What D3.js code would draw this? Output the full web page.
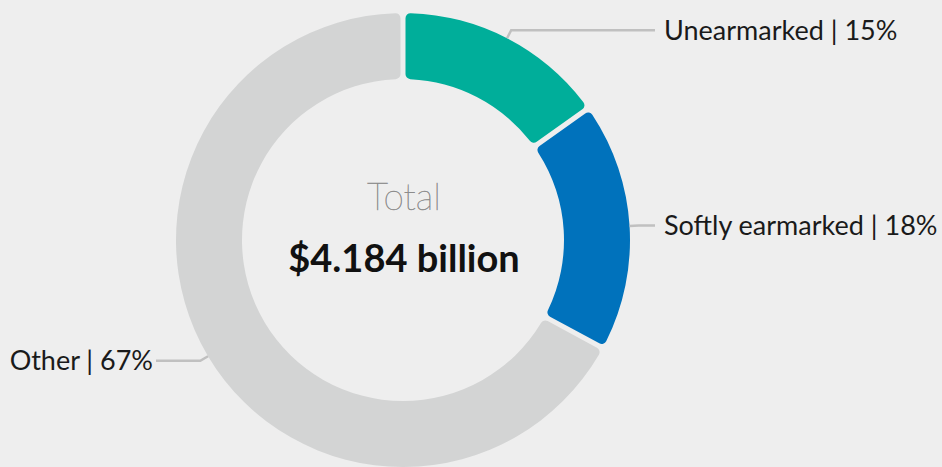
<!DOCTYPE html>
<html>
<head>
<meta charset="utf-8">
<script src="https://cdn.jsdelivr.net/npm/d3@7"></script>
<style>
  html, body { margin: 0; padding: 0; background: #eeeeee; overflow: hidden; }
  svg { display: block; font-family: Lato, "Noto Sans", sans-serif; }
</style>
</head>
<body>
<div id="chart"></div>
<script>
const categories = ['Unearmarked', 'Softly earmarked', 'Other'];
const shares = [15.0, 17.6, 67.4];
const colors = ['#00ae9a', '#0072bc', '#d3d4d4'];
const totalLabel = 'Total';
const totalValue = '$4.184 billion';

const width = 942, height = 467;
const cx = 403, cy = 240;
const outerR = 227, innerR = 161;

const svg = d3.select('#chart').append('svg')
  .attr('width', width)
  .attr('height', height);

const g = svg.append('g').attr('transform', `translate(${cx},${cy})`);

const data = categories.map((c, i) => ({ name: c, value: shares[i], color: colors[i] }));

const pie = d3.pie().sort(null).value(d => d.value).padAngle(0.018);
const arc = d3.arc().innerRadius(innerR).outerRadius(outerR).cornerRadius(5);
const arcs = pie(data);

// slices
g.selectAll('path.slice')
  .data(arcs)
  .enter().append('path')
  .attr('class', 'slice')
  .attr('fill', d => d.data.color)
  .attr('d', arc);

// leader lines and labels
const polar = (r, a) => [r * Math.sin(a), -r * Math.cos(a)];

arcs.forEach(d => {
  const mid = (d.startAngle + d.endAngle) / 2;
  const p0 = polar(outerR, mid);
  const p1 = polar(outerR + 9, mid);
  const right = Math.sin(mid) > 0;
  const xEnd = right ? 655 - cx : 156 - cx;
  const p2 = [xEnd, p1[1]];

  g.append('polyline')
    .attr('points', [p0, p1, p2].map(p => p.join(',')).join(' '))
    .attr('fill', 'none')
    .attr('stroke', '#c0c0c0')
    .attr('stroke-width', 2.5);

  g.append('text')
    .attr('x', right ? xEnd + 9 : xEnd - 3)
    .attr('y', p2[1])
    .attr('dy', '0.35em')
    .attr('text-anchor', right ? 'start' : 'end')
    .attr('fill', '#1a1a1a')
    .style('font-size', '27px')
    .text(`${d.data.name} | ${Math.round(d.data.value)}%`);
});

// center text (thin weight, slightly thickened)
g.append('text')
  .attr('x', 1)
  .attr('y', 210 - cy)
  .attr('text-anchor', 'middle')
  .attr('fill', '#8c8c8c')
  .attr('stroke', '#8c8c8c')
  .attr('stroke-width', 0.5)
  .style('font-size', '37px')
  .style('font-weight', 100)
  .text(totalLabel);

g.append('text')
  .attr('x', 1)
  .attr('y', 272 - cy)
  .attr('text-anchor', 'middle')
  .attr('fill', '#111')
  .style('font-size', '38px')
  .style('font-weight', 700)
  .text(totalValue);
</script>
</body>
</html>
